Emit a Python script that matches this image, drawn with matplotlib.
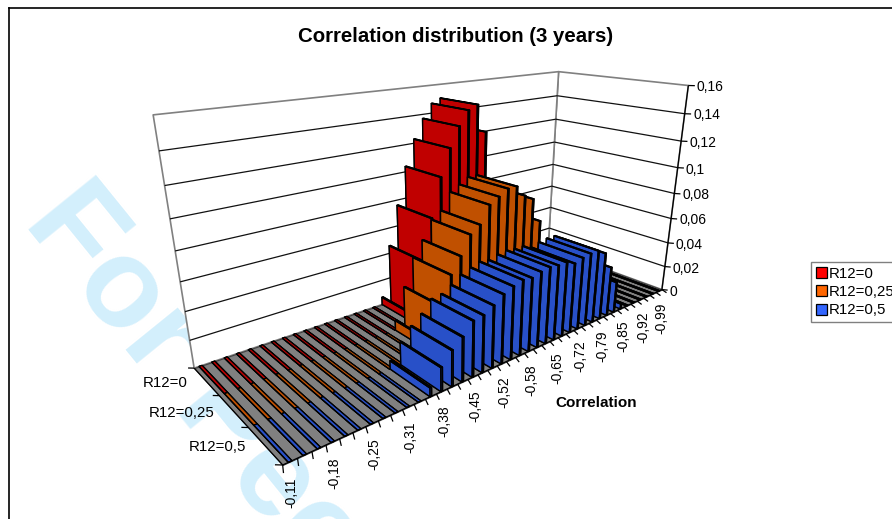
import numpy as np
import matplotlib
matplotlib.use('Agg')
import matplotlib.pyplot as plt
from matplotlib.patches import Patch
from mpl_toolkits.mplot3d import proj3d
from mpl_toolkits.mplot3d.art3d import Poly3DCollection, Line3DCollection

plt.rcParams['font.family'] = ['Liberation Sans', 'DejaVu Sans']

# Data
series_names = ['R12=0', 'R12=0,25', 'R12=0,5']
tick_labels = ['-0,11', '-0,18', '-0,25', '-0,31', '-0,38', '-0,45', '-0,52',
               '-0,58', '-0,65', '-0,72', '-0,79', '-0,85', '-0,92', '-0,99']
y_ticks = ['0', '0,02', '0,04', '0,06', '0,08', '0,1', '0,12', '0,14', '0,16']
y_values = [0, 0.02, 0.04, 0.06, 0.08, 0.1, 0.12, 0.14, 0.16]

r12_0 = [0] * 17 + [0.006, 0.046, 0.076, 0.104, 0.123, 0.137, 0.147, 0.15, 0.13,
                    0.08, 0.05, 0.02, 0.005] + [0] * 10
r12_25 = [0] * 15 + [0.0075, 0.031, 0.051, 0.062, 0.075, 0.08, 0.092, 0.096, 0.1, 0.1,
                     0.092, 0.088, 0.07, 0.04, 0.02, 0.005] + [0] * 9
r12_5 = [0] * 11 + [0.006, 0.0165, 0.025, 0.031, 0.039, 0.04, 0.044, 0.049, 0.052, 0.054,
                    0.053, 0.055, 0.056, 0.055, 0.055, 0.052, 0.054, 0.055, 0.055, 0.051,
                    0.038, 0.024, 0.004] + [0] * 6
series_values = [r12_0, r12_25, r12_5]

side_colors = ['#C00000', '#C05000', '#2850C8']
legend_colors = ['#FF0000', '#FF6600', '#3366FF']

n_cat = len(r12_0)
z_max = y_values[-1]

# corners of the chart box on the page, used to calibrate the perspective
box_corners = [(0, 0, 0), (0, 3, 0), (n_cat, 3, 0), (n_cat, 0, 0),
               (0, 0, z_max), (n_cat, 0, z_max), (n_cat, 3, z_max)]
page_corners = [(194, 368), (283, 465), (662, 290), (548, 248),
                (153, 115), (559, 72), (688, 85)]


def fit_camera(world, page):
    rows = []
    for (x, y, z), (u, v) in zip(world, page):
        rows.append([x, y, z, 1, 0, 0, 0, 0, -u * x, -u * y, -u * z, -u])
        rows.append([0, 0, 0, 0, x, y, z, 1, -v * x, -v * y, -v * z, -v])
    p = np.linalg.svd(np.array(rows, dtype=float))[2][-1].reshape(3, 4)
    if p[2, 3] < 0:
        p = -p
    return np.vstack([p[0], p[1], [0, 0, 0, -1], p[2]])


fig = plt.figure(figsize=(8.92, 5.19), dpi=100)
# square axes so that 3d keeps it, one data unit is one pixel
ax = fig.add_axes([0, -373 / 519, 1, 892 / 519], projection='3d', computed_zorder=False)
camera = fit_camera(box_corners, page_corners)
ax.get_proj = lambda: camera
ax.set_axis_off()
ax.viewLim.intervalx = (0, 892)
ax.viewLim.intervaly = (892, 0)


def project(x, y, z):
    px, py, _ = proj3d.proj_transform(x, y, z, camera)
    return float(px), float(py)


def add_lines(segments, color, lw, zorder):
    ax.add_collection3d(Line3DCollection(segments, colors=color, linewidths=lw, zorder=zorder))


# watermark
ax.text2D(22, 223, 'For Peer Review Only', transform=ax.transData, fontsize=91, fontweight='bold',
          color='#D3EFFC', rotation=-51, rotation_mode='anchor', ha='left', va='baseline', zorder=0)

# walls
walls = [[(0, 0, 0), (n_cat, 0, 0), (n_cat, 0, z_max), (0, 0, z_max)],
         [(n_cat, 0, 0), (n_cat, 3, 0), (n_cat, 3, z_max), (n_cat, 0, z_max)]]
ax.add_collection3d(Poly3DCollection(walls, facecolors='white', edgecolors='#808080', linewidths=1.2, zorder=1))
grid_lines = []
for v in y_values[1:-1]:
    grid_lines.append([(0, 0, v), (n_cat, 0, v)])
    grid_lines.append([(n_cat, 0, v), (n_cat, 3, v)])
add_lines(grid_lines, '#111111', 0.9, 2)

# floor
floor = [[(0, 0, 0), (0, 3, 0), (n_cat, 3, 0), (n_cat, 0, 0)]]
ax.add_collection3d(Poly3DCollection(floor, facecolors='#808080', edgecolors='#404040', linewidths=0.8, zorder=3))

# bars, back row first and far bars first. zero bars stay a bit wider so the colour shows on the floor
bar_w = 0.14
zero_w = 0.24
order = 4
for s, values in enumerate(series_values):
    for i in range(n_cat - 1, -1, -1):
        w = bar_w if values[i] > 0 else zero_w
        ax.bar3d(i + 0.5 - w / 2, s, 0, w, 1, values[i], color=side_colors[s],
                 edgecolor='black', linewidth=1.0 if values[i] > 0 else 0.9, shade=False, zorder=order)
        order += 1

# axes lines and ticks
axis_lines = [[(0, 0, 0), (0, 3, 0)], [(0, 3, 0), (n_cat, 3, 0)], [(n_cat, 3, 0), (n_cat, 3, z_max)]]
for i in range(n_cat + 1):
    axis_lines.append([(i, 3, 0), (i - 0.3, 3.144, 0)])
for s in range(4):
    axis_lines.append([(0, s, 0), (-0.35, s - 0.065, 0)])
for v in y_values:
    axis_lines.append([(n_cat, 3, v), (n_cat + 0.31, 3.088, v)])
add_lines(axis_lines, 'black', 0.9, order)

for v, lab in zip(y_values, y_ticks):
    px, py = project(n_cat + 0.31, 3.088, v)
    ax.text2D(px + 2, py + 1.5, lab, transform=ax.transData, fontsize=10, ha='left', va='center', zorder=order)
for k, lab in enumerate(tick_labels):
    px, py = project(k * 3 + 0.5, 3.2, 0)
    ax.text2D(px - 6, py + 8, lab, transform=ax.transData, fontsize=10, rotation=90, ha='center', va='top', zorder=order)
for s, lab in enumerate(series_names):
    px, py = project(0, s + 0.5, 0)
    ax.text2D(px - 19, py + 2, lab, transform=ax.transData, fontsize=10.8, ha='right', va='center', zorder=order)

ax.text2D(596, 403, 'Correlation', transform=ax.transData, fontsize=11, fontweight='bold', ha='center', va='center')
ax.text2D(456, 36, 'Correlation distribution (3 years)', transform=ax.transData, fontsize=14.7,
          fontweight='bold', ha='center', va='center')

# chart frame
fig.add_artist(plt.Line2D([8.5 / 892, 8.5 / 892], [0, 511 / 519], color='black', lw=1.2))
fig.add_artist(plt.Line2D([8.5 / 892, 1], [511 / 519, 511 / 519], color='black', lw=1.2))

handles = [Patch(facecolor=c, edgecolor='black', linewidth=0.9) for c in legend_colors]
fig.legend(handles, series_names, loc='upper left', bbox_to_anchor=(811 / 892, 1 - 262 / 519), fontsize=10.8,
           fancybox=False, framealpha=1, edgecolor='#808080', handlelength=0.75, handleheight=0.75,
           handletextpad=0.15, borderaxespad=0, borderpad=0.3, labelspacing=0.3)

fig.savefig('out.png', dpi=100)
